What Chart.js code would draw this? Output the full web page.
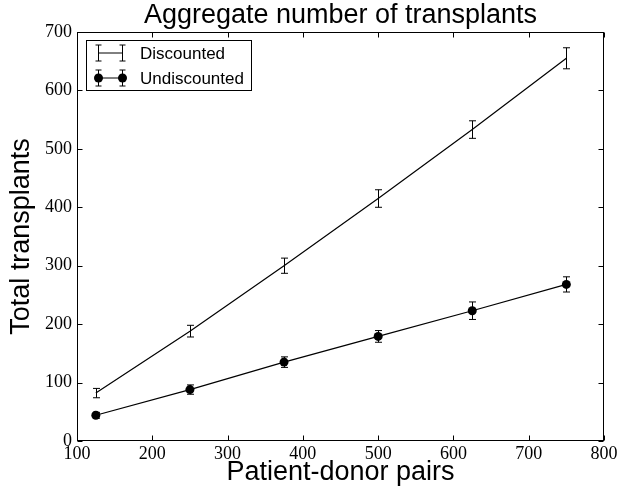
<!DOCTYPE html>
<html>
<head>
<meta charset="utf-8">
<title>Aggregate number of transplants</title>
<script src="https://cdn.jsdelivr.net/npm/chart.js@4.4.0/dist/chart.umd.min.js"></script>
<style>
    html, body { margin: 0; padding: 0; background: #fff; }
    #wrap { width: 621px; height: 492px; }
</style>
</head>
<body>
<div id="wrap"><canvas id="chart" width="621" height="492"></canvas></div>
<script>
// values
const pairs = [125, 250, 375, 500, 625, 750];
const discounted = [82, 188, 300, 415, 533, 655];
const discountedErr = [8, 10, 13, 15, 15, 18];
const undiscounted = [44, 88, 135, 179, 223, 268];
const undiscountedErr = [5, 8, 9, 10, 15, 13];
const xTicks = [100, 200, 300, 400, 500, 600, 700, 800];
const yTicks = [0, 100, 200, 300, 400, 500, 600, 700];

const chartTitle = 'Aggregate number of transplants';
const serif = '"Liberation Serif", "DejaVu Serif", serif';
const sans = '"Liberation Sans", Arial, sans-serif';

function toPoints(xs, ys) {
    return xs.map((x, i) => ({ x: x, y: ys[i] }));
}

// draws the error bars, the frame with inward ticks, the title and the legend
const mplLook = {
    id: 'mplLook',
    afterDatasetsDraw(chart) {
        const ctx = chart.ctx;
        const xs = chart.scales.x;
        const ys = chart.scales.y;
        ctx.save();
        ctx.strokeStyle = '#000';
        ctx.lineWidth = 1;
        chart.data.datasets.forEach(ds => {
            ds.data.forEach((p, i) => {
                const err = ds.errors[i];
                const px = Math.round(xs.getPixelForValue(p.x)) + 0.5;
                const top = ys.getPixelForValue(p.y + err);
                const bot = ys.getPixelForValue(p.y - err);
                ctx.beginPath();
                ctx.moveTo(px, top);
                ctx.lineTo(px, bot);
                ctx.moveTo(px - 3.5, top);
                ctx.lineTo(px + 3.5, top);
                ctx.moveTo(px - 3.5, bot);
                ctx.lineTo(px + 3.5, bot);
                ctx.stroke();
            });
        });
        ctx.restore();
    },
    afterDraw(chart) {
        const ctx = chart.ctx;
        const area = chart.chartArea;
        const xs = chart.scales.x;
        const ys = chart.scales.y;
        const tick = 5;
        ctx.save();
        ctx.strokeStyle = '#000';
        ctx.lineWidth = 1;
        const l = Math.round(area.left) + 0.5, r = Math.round(area.right) - 0.5;
        const t = Math.round(area.top) + 0.5, b = Math.round(area.bottom) - 0.5;
        ctx.strokeRect(l, t, r - l, b - t);
        ctx.beginPath();
        xTicks.forEach(v => {
            const px = Math.round(xs.getPixelForValue(v)) + 0.5;
            ctx.moveTo(px, b); ctx.lineTo(px, b - tick);
            ctx.moveTo(px, t); ctx.lineTo(px, t + tick);
        });
        yTicks.forEach(v => {
            const py = Math.round(ys.getPixelForValue(v)) + 0.5;
            ctx.moveTo(l, py); ctx.lineTo(l + tick, py);
            ctx.moveTo(r, py); ctx.lineTo(r - tick, py);
        });
        ctx.stroke();

        // title over the plot area
        ctx.fillStyle = '#000';
        ctx.font = '27px ' + sans;
        ctx.textAlign = 'center';
        ctx.textBaseline = 'alphabetic';
        ctx.fillText(chartTitle, (area.left + area.right) / 2, 23);

        // legend box
        const bx = 86.5, by = 40.5, bw = 165, bh = 50;
        ctx.fillStyle = '#fff';
        ctx.fillRect(bx, by, bw, bh);
        ctx.strokeRect(bx, by, bw, bh);
        const rows = [53, 78];
        chart.data.datasets.forEach((ds, i) => {
            const y = rows[i];
            const x1 = 98.5, x2 = 122.5;
            ctx.beginPath();
            ctx.moveTo(x1, y); ctx.lineTo(x2, y);
            [x1, x2].forEach(x => {
                ctx.moveTo(x, y - 8); ctx.lineTo(x, y + 8);
                ctx.moveTo(x - 3, y - 8); ctx.lineTo(x + 3, y - 8);
                ctx.moveTo(x - 3, y + 8); ctx.lineTo(x + 3, y + 8);
            });
            ctx.stroke();
            if (ds.pointRadius > 0) {
                ctx.fillStyle = '#000';
                [x1, x2].forEach(x => {
                    ctx.beginPath();
                    ctx.arc(x, y, 4.5, 0, Math.PI * 2);
                    ctx.fill();
                });
            }
            ctx.fillStyle = '#000';
            ctx.font = '17px ' + sans;
            ctx.textAlign = 'left';
            ctx.textBaseline = 'middle';
            ctx.fillText(ds.label, 140, y + 1);
        });
        ctx.restore();
    }
};

new Chart(document.getElementById('chart'), {
    type: 'line',
    data: {
        datasets: [{
            label: 'Discounted',
            data: toPoints(pairs, discounted),
            errors: discountedErr,
            borderColor: '#000',
            borderWidth: 1.2,
            pointRadius: 0,
            tension: 0,
            fill: false
        }, {
            label: 'Undiscounted',
            data: toPoints(pairs, undiscounted),
            errors: undiscountedErr,
            borderColor: '#000',
            borderWidth: 1.2,
            pointRadius: 4.5,
            pointBackgroundColor: '#000',
            pointBorderColor: '#000',
            pointBorderWidth: 0,
            tension: 0,
            fill: false
        }]
    },
    options: {
        responsive: false,
        animation: false,
        devicePixelRatio: 1,
        layout: { padding: { top: 32, right: 17, left: 0, bottom: 0 } },
        plugins: {
            legend: { display: false },
            title: { display: false },
            tooltip: { enabled: false }
        },
        scales: {
            x: {
                type: 'linear',
                min: 100,
                max: 800,
                afterBuildTicks: s => { s.ticks = xTicks.map(v => ({ value: v })); },
                afterFit: s => { s.height = 51; },
                grid: { display: false, drawTicks: false },
                border: { display: false },
                ticks: { color: '#000', font: { family: serif, size: 18 }, padding: 2, maxRotation: 0 },
                title: {
                    display: true,
                    text: 'Patient-donor pairs',
                    color: '#000',
                    font: { family: sans, size: 27, lineHeight: 1 },
                    padding: { top: 0, bottom: 6 }
                }
            },
            y: {
                type: 'linear',
                min: 0,
                max: 700,
                afterBuildTicks: s => { s.ticks = yTicks.map(v => ({ value: v })); },
                afterFit: s => { s.width = 77; },
                grid: { display: false, drawTicks: false },
                border: { display: false },
                ticks: { color: '#000', font: { family: serif, size: 18 }, padding: 5 },
                title: {
                    display: true,
                    text: 'Total transplants',
                    color: '#000',
                    font: { family: sans, size: 27, lineHeight: 1 },
                    padding: { top: 8, bottom: 0 }
                }
            }
        }
    },
    plugins: [mplLook]
});
</script>
</body>
</html>
